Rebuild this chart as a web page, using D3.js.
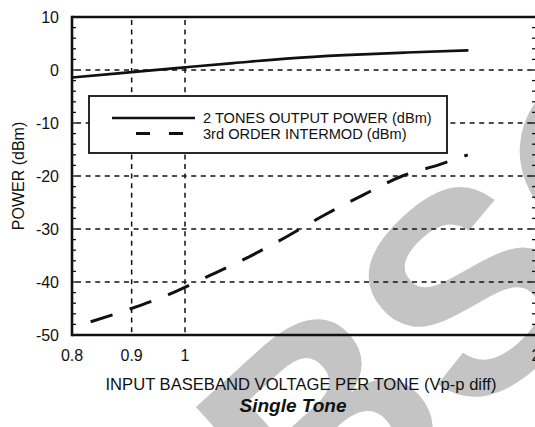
<html>
<head>
  <script src="https://d3js.org/d3.v7.min.js"></script>
</head>
<style>
  body { margin: 0; background: white; }
  text { font-family: "Liberation Sans", Arial, sans-serif; }
</style>
<body>
  <svg id="chart" width="535" height="427"></svg>
  <script>
    // data
    const xTicks = [0.8, 0.9, 1, 2];
    const yTicks = [10, 0, -10, -20, -30, -40, -50];
    const xGrid = [0.9, 1];
    const yGrid = [0, -10, -20, -30, -40];

    // 2 tones output power
    const toneV = [0.8, 0.9, 1.0, 1.1, 1.23, 1.37, 1.55, 1.75];
    const tonePower = [-1.4, -0.4, 0.5, 1.3, 2.2, 2.8, 3.3, 3.7];

    // 3rd order intermod
    const imV = [0.83, 0.897, 0.97, 1.045, 1.129, 1.221, 1.316, 1.421, 1.536, 1.655, 1.748];
    const imPower = [-47.5, -45.1, -42.3, -39.0, -35.5, -31.5, -27.4, -23.6, -20.0, -17.8, -16.0];

    const legendLabels = ["2 TONES OUTPUT POWER (dBm)", "3rd ORDER INTERMOD (dBm)"];

    const svg = d3.select("svg#chart");
    const margin = { top: 17, left: 72, right: 536, bottom: 335 };

    const xScale = d3.scaleLog().domain([0.8, 2]).range([margin.left, margin.right]);
    const yScale = d3.scaleLinear().domain([-50, 10]).range([margin.bottom, margin.top]);

    // watermark (behind everything)
    svg.append("text")
      .attr("transform", "translate(662,113) rotate(-42)")
      .attr("text-anchor", "middle")
      .attr("dy", "0.36em")
      .attr("font-size", 285)
      .attr("font-weight", "bold")
      .attr("fill", "#c4c4c4")
      .text("OBSOLETE");

    // grid
    const grid = svg.append("g").attr("stroke", "#111").attr("stroke-width", 1.5)
      .attr("stroke-dasharray", "5,4.6");
    yGrid.forEach(v => {
      grid.append("line")
        .attr("x1", margin.left + 4).attr("x2", 535)
        .attr("y1", yScale(v)).attr("y2", yScale(v));
    });
    xGrid.forEach(v => {
      grid.append("line")
        .attr("x1", xScale(v)).attr("x2", xScale(v))
        .attr("y1", margin.top + 3).attr("y2", margin.bottom);
    });

    // minor ticks every 2 dB, left and right
    const minor = d3.range(-48, 10, 2);
    const ticks = svg.append("g").attr("stroke", "#111").attr("stroke-width", 1.3);
    minor.forEach(v => {
      ticks.append("line").attr("x1", margin.left).attr("x2", margin.left + 4)
        .attr("y1", yScale(v)).attr("y2", yScale(v));
      ticks.append("line").attr("x1", margin.right - 4).attr("x2", margin.right)
        .attr("y1", yScale(v)).attr("y2", yScale(v));
    });

    // frame: left, top, bottom
    const frame = svg.append("g").attr("stroke", "#111").attr("stroke-width", 2.6);
    frame.append("line").attr("x1", margin.left).attr("x2", margin.left)
      .attr("y1", margin.top - 1.3).attr("y2", margin.bottom + 1.3);
    frame.append("line").attr("x1", margin.left).attr("x2", 535)
      .attr("y1", margin.top).attr("y2", margin.top);
    frame.append("line").attr("x1", margin.left).attr("x2", 535)
      .attr("y1", margin.bottom).attr("y2", margin.bottom);

    // tick labels
    svg.append("g").selectAll("text").data(yTicks).join("text")
      .attr("x", 59).attr("y", d => yScale(d)).attr("dy", "0.35em")
      .attr("text-anchor", "end").attr("font-size", 16).attr("fill", "#111")
      .text(d => d);
    svg.append("g").selectAll("text").data(xTicks).join("text")
      .attr("x", d => xScale(d)).attr("y", 361)
      .attr("text-anchor", "middle").attr("font-size", 16).attr("fill", "#111")
      .text(d => d);

    // axis titles
    svg.append("text")
      .attr("transform", "translate(24,176) rotate(-90)")
      .attr("text-anchor", "middle").attr("font-size", 16).attr("fill", "#111")
      .text("POWER (dBm)");
    svg.append("text")
      .attr("x", 301).attr("y", 390)
      .attr("text-anchor", "middle").attr("font-size", 16.6).attr("fill", "#111")
      .text("INPUT BASEBAND VOLTAGE PER TONE (Vp-p diff)");
    svg.append("text")
      .attr("x", 293).attr("y", 412)
      .attr("text-anchor", "middle").attr("font-size", 19)
      .attr("font-weight", "bold").attr("font-style", "italic").attr("fill", "#111")
      .text("Single Tone");

    // lines
    const lineGen = d3.line()
      .x(d => xScale(d[0]))
      .y(d => yScale(d[1]))
      .curve(d3.curveMonotoneX);

    svg.append("path")
      .datum(d3.zip(toneV, tonePower))
      .attr("d", lineGen)
      .attr("fill", "none").attr("stroke", "#111").attr("stroke-width", 2.6);

    svg.append("path")
      .datum(d3.zip(imV, imPower))
      .attr("d", lineGen)
      .attr("fill", "none").attr("stroke", "#111").attr("stroke-width", 3)
      .attr("stroke-dasharray", "23,18");

    // legend
    const legend = svg.append("g");
    legend.append("rect")
      .attr("x", 89).attr("y", 96).attr("width", 358).attr("height", 57)
      .attr("fill", "white").attr("stroke", "#111").attr("stroke-width", 1.8);
    legend.append("line")
      .attr("x1", 112).attr("x2", 195).attr("y1", 118).attr("y2", 118)
      .attr("stroke", "#111").attr("stroke-width", 2.6);
    legend.append("line")
      .attr("x1", 136).attr("x2", 183).attr("y1", 133.5).attr("y2", 133.5)
      .attr("stroke", "#111").attr("stroke-width", 3).attr("stroke-dasharray", "14,19");
    legend.selectAll("text.lbl").data(legendLabels).join("text")
      .attr("class", "lbl")
      .attr("x", 203).attr("y", (d, i) => 118 + i * 15.5).attr("dy", "0.35em")
      .attr("font-size", 14.6).attr("fill", "#111")
      .text(d => d);
  </script>
</body>
</html>
